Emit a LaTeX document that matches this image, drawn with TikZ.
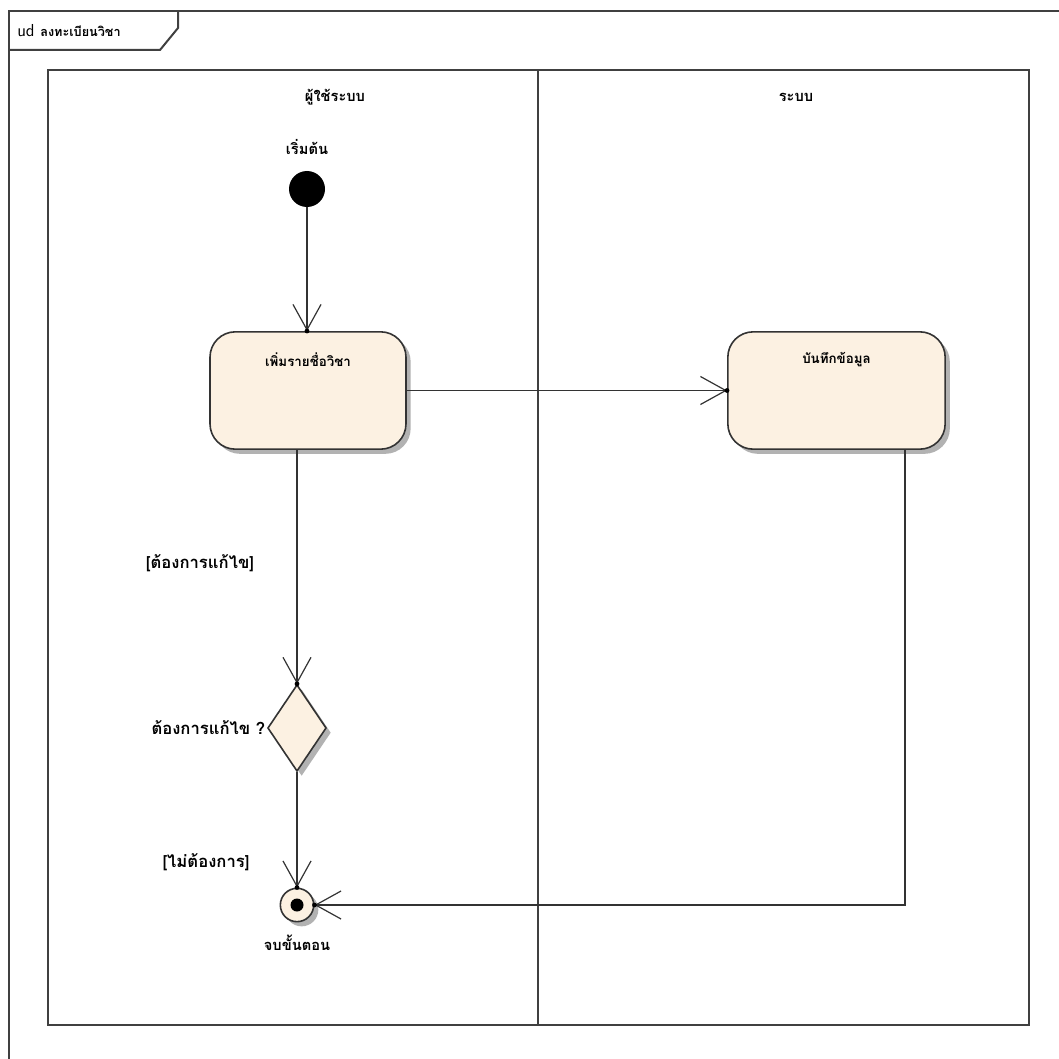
\documentclass[tikz,border=0pt]{standalone}
\usepackage{fontspec}
\newfontfamily\thaifont[Script=Thai]{Loma}
\usetikzlibrary{arrows.meta,shapes.geometric,shadows,positioning}

\begin{document}
\begin{tikzpicture}[x=0.75pt,y=-0.75pt,
  frameline/.style={draw=black!75,line width=1.5pt},
  flow/.style={draw=black!80,line width=1.1pt,-{Straight Barb[length=19pt,width=21pt,line width=0.9pt]}},
  shade/.style={drop shadow={shadow xshift=3.5pt,shadow yshift=-3.5pt,fill=black!30,opacity=1}},
  action/.style={rounded corners=19pt,draw=black!80,line width=1.2pt,fill=nodeColor,shade,minimum height=88pt},
  actlabel/.style={font=\thaifont\bfseries\fontsize{10}{11}\selectfont,inner sep=0pt},
  lanelabel/.style={font=\thaifont\bfseries\fontsize{11}{13}\selectfont,inner sep=0pt},
  guard/.style={font=\thaifont\bfseries\fontsize{12.5}{14}\selectfont,inner sep=0pt},
  tipdot/.style={fill=black,radius=2.4}]
\definecolor{nodeColor}{RGB}{252,241,226}
\path[use as bounding box,fill=white] (0,0) rectangle (1059,1059);

% diagram frame and name tab
\begin{scope}
\clip (0,0) rectangle (1059,1059);
\draw[frameline] (9,1070) -- (9,11) -- (1070,11);
\draw[frameline] (9,50) -- (160,50) -- (178,28) -- (178,11);
\end{scope}
\node[anchor=west,inner sep=0pt] (title) at (17,31)
  {\sffamily\fontsize{13}{15}\selectfont ud \thaifont\bfseries\fontsize{9.5}{11}\selectfont ลงทะเบียนวิชา};

% swimlanes
\draw[frameline] (48,70) rectangle (1029,1025);
\draw[frameline] (538,70) -- (538,1025);
\node[lanelabel] (user) at (335,97) {ผู้ใช้ระบบ};
\node[lanelabel] (sys) at (796,97) {ระบบ};

% nodes
\node[circle,fill=black,minimum size=27pt,inner sep=0pt] (start) at (307,189) {};
\node[lanelabel,above=12pt of start] (startlbl) {เริ่มต้น};

\node[action,minimum width=147pt] (add) at (308,390.5) {};
\node[actlabel,below=16pt of add.north] (addlbl) {เพิ่มรายชื่อวิชา};

\node[action,minimum width=163pt] (save) at (836.5,390.5) {};
\node[actlabel,below=16pt of save.north] (savelbl) {บันทึกข้อมูล};

\node[diamond,draw=black!80,line width=1.2pt,fill=nodeColor,shade,minimum width=44pt,minimum height=65pt,inner sep=0pt] (dec) at (297,728) {};
\node[guard,anchor=east,xshift=-1pt] (declbl) at (dec.west) {ต้องการแก้ไข ?};

\node[circle,draw=black!80,line width=1.2pt,fill=nodeColor,shade,minimum size=25pt,inner sep=0pt] (end) at (297,905) {};
\fill[black] (end) circle (6.5);
\node[lanelabel,below=9pt of end] (endlbl) {จบขั้นตอน};

\node[guard] (yes) at (200,563) {[ต้องการแก้ไข]};
\node[guard] (no) at (206,862) {[ไม่ต้องการ]};

% connectors
\coordinate (turn) at (905,905);
\draw[flow] (start) -- (start |- add.north);
\draw[flow] (add) -- (save);
\draw[flow] (add.south -| dec.north) -- (dec.north);
\draw[flow] (dec.south) -- (end.north);
\draw[flow] (save.south -| turn) -- (turn) -- (end.east);
\fill[tipdot] (start |- add.north) circle;
\fill[tipdot] (save.west) circle;
\fill[tipdot] (dec.north) circle;
\fill[tipdot] (end.north) circle;
\fill[tipdot] (end.east) circle;
\end{tikzpicture}
\end{document}
